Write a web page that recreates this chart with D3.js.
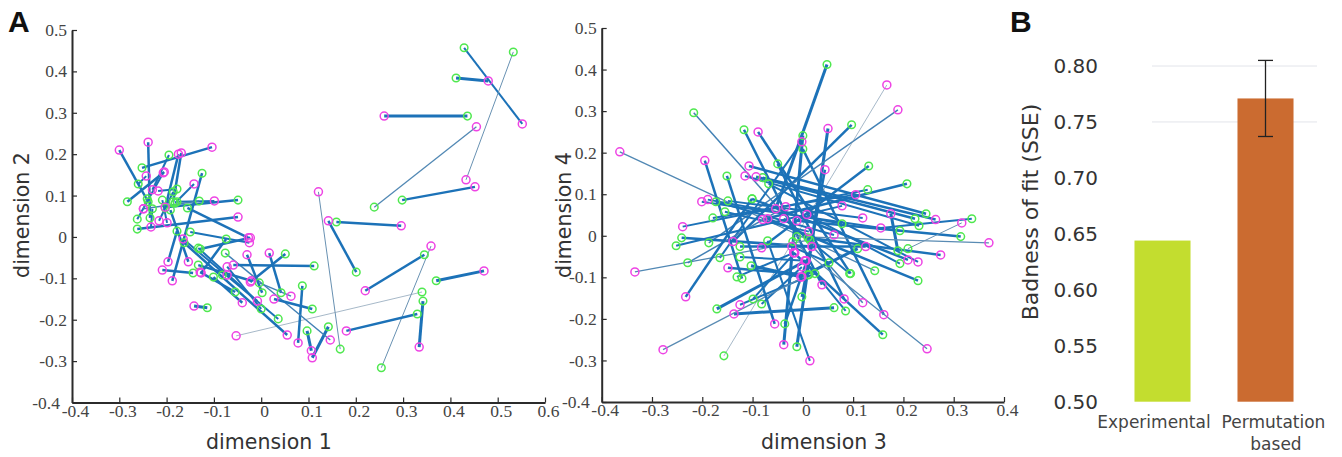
<!DOCTYPE html>
<html>
<head>
<meta charset="utf-8">
<script src="https://cdn.jsdelivr.net/npm/d3@7"></script>
<style>
  body { margin: 0; background: #fff; }
  svg { display: block; }
</style>
</head>
<body>
<svg id="fig" width="1342" height="457"></svg>
<script>
// panel A, dimensions 1 and 2
var dim1Green = [.429,.412,.533,.436,.239,.298,.167,.201,.159,.254,.345,.370,.340,.330,.342,.087,.097,.142,-.076,.112,.051,.042,.002,.108,-.004,-.163,.036,-.133,0,-.101,-.055,-.144,-.133,-.129,-.074,-.150,-.125,-.178,-.192,-.114,-.239,-.235,-.252,-.283,-.195,-.186,-.203,-.182,-.178,-.049,-.131,-.262,-.262,-.186,-.209,-.230,-.260,-.178,-.156,-.082,-.241];
var dim2Green = [.457,.384,.447,.292,.072,.089,-.271,-.085,.036,-.316,-.043,-.106,-.133,-.186,-.155,-.118,-.227,-.217,-.039,-.070,-.041,-.135,-.135,-.174,-.111,-.014,-.198,-.027,-.174,-.097,-.133,-.087,-.068,-.029,-.005,.012,.154,.014,.065,-.171,.085,.046,.167,.085,.198,.085,.070,.082,.085,.089,.087,.019,.043,.109,.089,.068,.128,.116,.070,-.092,.092];
var dim1Magenta = [.552,.480,.433,.260,.455,.452,.121,.142,.296,.359,.220,.471,-.053,.180,.334,.078,.106,.108,.146,-.059,-.023,.017,-.030,.027,.063,.055,-.165,-.008,-.072,-.040,-.129,-.209,-.021,-.023,-.127,-.025,-.188,-.197,-.154,-.142,-.300,-.239,-.104,-.205,-.230,-.169,-.175,-.142,-.099,-.203,-.249,-.049,-.207,-.216,-.199,-.233,-.243,-.218,-.027,-.072,-.249];
var dim2Magenta = [.273,.377,.138,.292,.266,.121,.109,.039,.027,-.022,-.130,-.082,-.239,-.227,-.266,-.256,-.275,-.292,-.249,-.068,-.109,-.039,-.043,-.150,-.143,-.237,-.005,-.155,-.072,-.159,-.085,-.080,-.106,-.002,-.087,-.014,-.106,-.060,-.060,-.167,.210,.229,.217,.157,.114,.203,.200,.128,.087,.072,.068,.048,.155,.039,.034,.024,.147,.111,-.002,-.092,.068];
var weightA = [2,3,1,3,1.3,2.5,1,2.5,2.5,1,2.5,3,.7,2.5,3,2.5,3,3,1.5,2.5,2.5,2.5,2.5,2.5,1.5,2.5,2,2,2,2.5,2.5,2.5,2.5,2.5,2.5,2,2.5,2.5,2.5,3,2.5,2.5,2.5,2.5,2,2.5,2.5,2,2,2.5,1.5,2.5,2,2,2,2,2,2,2.5,1.5,1.5];

// panel A, dimensions 3 and 4
var dim3Green = [.048,-.217,.143,-.117,.095,0,0,-.165,.097,-.012,-.187,-.157,.131,-.002,.207,.129,-.241,-.179,-.252,.193,.189,.245,.223,-.080,-.068,.231,.336,-.149,.078,-.155,.193,-.173,-.121,.314,-.012,.010,.209,.229,-.101,.093,.109,-.050,.085,-.020,.159,.062,-.070,-.171,.024,-.099,-.082,.010,.014,-.229,-.101,-.151,-.036,-.131,-.125,-.125,-.103,.012,.052];
var dim4Green = [.412,.296,-.084,.255,-.091,.241,.209,-.053,.267,-.267,-.017,-.289,.168,-.147,.125,.111,-.005,.043,-.024,-.067,-.036,.053,.041,.140,.125,.024,.041,.084,.029,.058,.012,.082,-.103,-.002,-.002,-.005,-.031,-.108,.089,-.091,-.031,.173,-.181,-.014,-.238,-.173,-.012,-.176,-.091,-.152,-.164,-.094,-.010,-.065,.089,.144,-.212,-.099,-.026,-.051,-.072,-.094,-.065];
var dim3Magenta = [-.054,.119,-.364,.038,-.089,-.038,.161,-.002,-.139,.050,.189,.167,-.082,.044,-.080,-.239,.018,.105,.078,.008,.175,-.107,-.093,.264,.229,-.115,.155,.119,-.189,.012,-.201,.062,-.195,-.012,.370,.274,.316,-.070,.209,-.038,-.004,.082,.004,.247,-.018,-.137,.014,.006,-.125,-.016,-.002,-.278,-.334,-.034,-.233,-.056,.018,-.018,.125,.006,-.002,-.149,-.022];
var dim4Magenta = [.065,-.161,.202,-.118,.250,-.262,-.190,.226,-.014,.258,.303,.363,-.029,.159,.039,.022,-.026,.099,.072,.051,.053,.168,.142,.039,-.063,.144,.019,.043,.087,.010,.082,.002,.181,.036,-.017,-.046,.031,.041,-.058,.041,-.099,-.152,-.060,-.272,-.041,-.188,-.301,-.060,-.166,-.041,-.075,-.274,-.087,.070,-.147,-.212,-.026,-.041,-.026,-.060,-.099,-.077,-.026];
var weightB = [3,1.5,1.3,2.5,2.5,3,2.5,2,2.5,3,1.5,.7,2.5,2.5,2.5,2,2.5,2,2,2,3,2.5,2.5,2.5,2,2,2,2,2,2,2,2,2.5,2.5,1.2,2.5,1,2.5,2.5,2,3,2.5,2,1.3,2.5,3,2,3,2,2,2,1.2,1.3,1.5,2.5,2.5,2.5,2,2.5,2,3,2.5,2];

var ticks14 = [-.4,-.3,-.2,-.1,0,.1,.2,.3,.4,.5,.6];
var ticks3 = [-.4,-.3,-.2,-.1,0,.1,.2,.3,.4];
var ticksY = [-.4,-.3,-.2,-.1,0,.1,.2,.3,.4,.5];

// panel B
var barNames = ["Experimental", "Permutation based"];
var barValues = [.644, .771];
var barLow = [null, .737];
var barHigh = [null, .805];
var barTicks = [.5,.55,.6,.65,.7,.75,.8];
var barColors = ["#c3dd2f", "#cb6b30"];

var svg = d3.select("#fig");
var tickFmt = function(d) { return d == 0 ? "0" : d3.format(".1f")(d).replace("\u2212", "-"); };

var scatter = function(xs, ys, xm, ym, weight, xRange, yRange, xTicks, xDomain, xLabel, xLabelX, yLabel, yLabelX) {
  var x = d3.scaleLinear().domain(xDomain).range(xRange);
  var y = d3.scaleLinear().domain([-.4, .5]).range(yRange);
  var colour = d3.scaleLinear().domain([.7, 2]).range(["#7f9ab0", "#1c72b8"]).clamp(true);
  var g = svg.append("g");

  g.append("g").selectAll("line").data(weight).enter().append("line")
    .attr("x1", function(d, i) { return x(xs[i]); })
    .attr("y1", function(d, i) { return y(ys[i]); })
    .attr("x2", function(d, i) { return x(xm[i]); })
    .attr("y2", function(d, i) { return y(ym[i]); })
    .attr("stroke", function(d) { return colour(d); })
    .attr("stroke-width", function(d) { return d; });

  g.append("g").selectAll("circle").data(xs).enter().append("circle")
    .attr("cx", function(d) { return x(d); })
    .attr("cy", function(d, i) { return y(ys[i]); })
    .attr("r", 3.8).attr("fill", "none")
    .attr("stroke", "#4fe84f").attr("stroke-width", 1.5);
  g.append("g").selectAll("circle").data(xm).enter().append("circle")
    .attr("cx", function(d) { return x(d); })
    .attr("cy", function(d, i) { return y(ym[i]); })
    .attr("r", 4).attr("fill", "none")
    .attr("stroke", "#ee44e4").attr("stroke-width", 1.5);

  var xAxis = g.append("g").attr("transform", "translate(0," + yRange[0] + ")")
    .call(d3.axisBottom(x).tickValues(xTicks).tickFormat(tickFmt).tickSize(-5).tickSizeOuter(0));
  var yAxis = g.append("g").attr("transform", "translate(" + xRange[0] + ",0)")
    .call(d3.axisLeft(y).tickValues(ticksY).tickFormat(tickFmt).tickSize(-5).tickSizeOuter(0));
  [xAxis, yAxis].forEach(function(a) {
    a.select(".domain").attr("stroke", "#2b2b2b").attr("stroke-width", 2);
    a.selectAll("line").attr("stroke", "#2b2b2b").attr("stroke-width", 1.2);
    a.selectAll("text").attr("font-family", "Liberation Serif").attr("font-size", 17.5).attr("fill", "#444");
  });
  xAxis.selectAll("text").attr("y", 2).attr("dx", 3);
  // the two -0.4 labels share the corner, pull the y one clear of the x one
  yAxis.selectAll("text").attr("x", function(d) { return d == -.4 ? -12 : -5; });

  g.append("text").attr("x", xLabelX).attr("y", 449)
    .attr("text-anchor", "middle").attr("font-family", "DejaVu Sans").attr("font-size", 20.5).attr("fill", "#333")
    .text(xLabel);
  g.append("text").attr("transform", "translate(" + yLabelX + ",215) rotate(-90)")
    .attr("text-anchor", "middle").attr("font-family", "DejaVu Sans").attr("font-size", 20.5).attr("fill", "#333")
    .text(yLabel);
};

scatter(dim1Green, dim2Green, dim1Magenta, dim2Magenta, weightA, [72, 545], [402.5, 30], ticks14, [-.4, .6], "dimension 1", 269, "dimension 2", 29);
scatter(dim3Green, dim4Green, dim3Magenta, dim4Magenta, weightB, [601.7, 1004], [402, 28], ticks3, [-.4, .4], "dimension 3", 824, "dimension 4", 571);

// bars
var barX = d3.scaleBand().domain(barNames).range([1111, 1317]).paddingInner(.456).paddingOuter(.228);
var barY = d3.scaleLinear().domain([.5, .8]).range([401.7, 66]);

var bars = svg.append("g");
bars.selectAll("line.grid").data([.75, .8]).enter().append("line")
  .attr("class", "grid")
  .attr("x1", 1152).attr("x2", 1317)
  .attr("y1", function(d) { return barY(d); })
  .attr("y2", function(d) { return barY(d); })
  .attr("stroke", "#e2e4ea");
bars.selectAll("rect").data(barNames).enter().append("rect")
  .attr("x", function(d) { return barX(d); })
  .attr("width", barX.bandwidth())
  .attr("y", function(d, i) { return barY(barValues[i]); })
  .attr("height", function(d, i) { return barY(.5) - barY(barValues[i]); })
  .attr("fill", function(d, i) { return barColors[i]; });

var errs = bars.selectAll("g.err").data(barNames.filter(function(d, i) { return barHigh[i] !== null; }))
  .enter().append("g").attr("class", "err").attr("stroke", "#222").attr("stroke-width", 1.3);
var ci = function(d) { return barNames.indexOf(d); };
var mid = function(d) { return barX(d) + barX.bandwidth() / 2; };
errs.append("line").attr("x1", mid).attr("x2", mid)
  .attr("y1", function(d) { return barY(barHigh[ci(d)]); })
  .attr("y2", function(d) { return barY(barLow[ci(d)]); });
errs.append("line").attr("x1", function(d) { return mid(d) - 7.5; }).attr("x2", function(d) { return mid(d) + 7.5; })
  .attr("y1", function(d) { return barY(barHigh[ci(d)]); })
  .attr("y2", function(d) { return barY(barHigh[ci(d)]); });
errs.append("line").attr("x1", function(d) { return mid(d) - 7.5; }).attr("x2", function(d) { return mid(d) + 7.5; })
  .attr("y1", function(d) { return barY(barLow[ci(d)]); })
  .attr("y2", function(d) { return barY(barLow[ci(d)]); });

var barAxis = svg.append("g").attr("transform", "translate(1106,0)")
  .call(d3.axisLeft(barY).tickValues(barTicks).tickFormat(d3.format(".2f")).tickSize(0));
barAxis.select(".domain").remove();
barAxis.selectAll("text").attr("font-family", "DejaVu Sans").attr("font-size", 20).attr("fill", "#333").attr("x", -8);

svg.append("text").attr("transform", "translate(1038,212) rotate(-90)")
  .attr("text-anchor", "middle").attr("font-family", "DejaVu Sans").attr("font-size", 22).attr("fill", "#333")
  .text("Badness of fit (SSE)");

var labelFont = function(s) {
  return s.attr("text-anchor", "middle").attr("font-family", "DejaVu Sans").attr("font-size", 17).attr("fill", "#444");
};
svg.append("text").attr("x", mid(barNames[0]) - 8.5).attr("y", 428).call(labelFont).text("Experimental");
svg.append("text").attr("x", mid(barNames[1]) + 8).attr("y", 428).call(labelFont).text("Permutation");
svg.append("text").attr("x", mid(barNames[1]) + 10.5).attr("y", 450).call(labelFont).text("based");

// panel letters
[["A", 8, 32], ["B", 1010, 32]].forEach(function(p) {
  svg.append("text").attr("x", p[1]).attr("y", p[2])
    .attr("font-family", "Liberation Sans").attr("font-weight", "bold").attr("font-size", 30).attr("fill", "#111")
    .text(p[0]);
});
</script>
</body>
</html>
